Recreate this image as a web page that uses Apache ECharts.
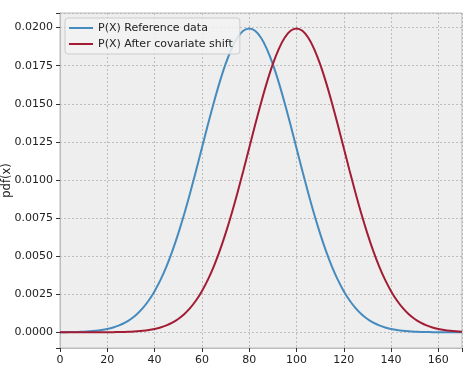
<!DOCTYPE html>
<html><head><meta charset="utf-8">
<script src="https://cdn.jsdelivr.net/npm/echarts@6/dist/echarts.min.js"></script>
<style>html,body{margin:0;padding:0;background:#fff}#c{width:470px;height:371px}</style>
</head><body><div id="c"></div>
<script>
const xValues = [0,2.5,5,7.5,10,12.5,15,17.5,20,22.5,25,27.5,30,32.5,35,37.5,40,42.5,45,47.5,50,52.5,55,57.5,60,62.5,65,67.5,70,72.5,75,77.5,80,82.5,85,87.5,90,92.5,95,97.5,100,102.5,105,107.5,110,112.5,115,117.5,120,122.5,125,127.5,130,132.5,135,137.5,140,142.5,145,147.5,150,152.5,155,157.5,160,162.5,165,167.5,170];
const referenceData = [0.0000067,0.0000110,0.0000176,0.0000280,0.0000436,0.0000670,0.000101,0.000151,0.000222,0.000320,0.000455,0.000636,0.000876,0.001188,0.001587,0.002086,0.0027,0.003439,0.004314,0.005327,0.006476,0.007751,0.009132,0.010594,0.012099,0.013603,0.015057,0.016408,0.017603,0.018593,0.019333,0.019792,0.019947,0.019792,0.019333,0.018593,0.017603,0.016408,0.015057,0.013603,0.012099,0.010594,0.009132,0.007751,0.006476,0.005327,0.004314,0.003439,0.0027,0.002086,0.001587,0.001188,0.000876,0.000636,0.000455,0.000320,0.000222,0.000151,0.000101,0.0000670,0.0000436,0.0000280,0.0000176,0.0000110,0.0000067,0.0000040,0.0000024,0.0000014,0.0000008];
const shiftedData = [0.0000001,0.0000002,0.0000003,0.0000005,0.0000008,0.0000014,0.0000024,0.0000040,0.0000067,0.0000110,0.0000176,0.0000280,0.0000436,0.0000670,0.000101,0.000151,0.000222,0.000320,0.000455,0.000636,0.000876,0.001188,0.001587,0.002086,0.0027,0.003439,0.004314,0.005327,0.006476,0.007751,0.009132,0.010594,0.012099,0.013603,0.015057,0.016408,0.017603,0.018593,0.019333,0.019792,0.019947,0.019792,0.019333,0.018593,0.017603,0.016408,0.015057,0.013603,0.012099,0.010594,0.009132,0.007751,0.006476,0.005327,0.004314,0.003439,0.0027,0.002086,0.001587,0.001188,0.000876,0.000636,0.000455,0.000320,0.000222,0.000151,0.000101,0.0000670,0.0000436];
const yTicks = [0,0.0025,0.005,0.0075,0.01,0.0125,0.015,0.0175,0.02];
const xTicks = [0,20,40,60,80,100,120,140,160];
const seriesNames = ['P(X) Reference data','P(X) After covariate shift'];

const chart = echarts.init(document.getElementById('c'), null, {renderer:'canvas'});
const font = 'DejaVu Sans';
chart.setOption({
  animation:false,
  textStyle:{fontFamily:font},
  grid:{left:60,top:13,width:402,height:335,containLabel:false,outerBoundsMode:'none',show:true,backgroundColor:'#eeeeee',borderColor:'#bcbcbc',borderWidth:1},
  legend:{
    left:65,top:18,orient:'vertical',itemGap:4,itemWidth:24,itemHeight:2,
    backgroundColor:'rgba(242,242,242,0.85)',borderColor:'#cccccc',borderWidth:1,borderRadius:3,
    padding:[4,7,4,4],
    textStyle:{fontFamily:font,fontSize:11,lineHeight:12,color:'#222'},
    icon:'rect',
    data:seriesNames
  },
  xAxis:{
    type:'value',min:0,max:170,minInterval:20,maxInterval:20,
    axisLine:{show:true,onZero:false,lineStyle:{color:'#bcbcbc',width:1}},
    axisTick:{show:true,inside:false,length:4,lineStyle:{color:'#333333',width:1}},
    axisLabel:{customValues:xTicks,fontFamily:font,fontSize:11,color:'#222',margin:7},
    splitLine:{show:true,lineStyle:{color:'#b0b0b0',type:[2,2],width:0.8}}
  },
  yAxis:{
    type:'value',min:-0.00103,max:0.02096,minInterval:0.0025,maxInterval:0.0025,
    name:'pdf(x)',nameLocation:'middle',nameGap:47,nameRotate:90,nameMoveOverlap:false,
    nameTextStyle:{fontFamily:font,fontSize:11.5,color:'#222'},
    axisLine:{show:true,onZero:false,lineStyle:{color:'#bcbcbc',width:1}},
    axisTick:{show:true,inside:false,length:4,lineStyle:{color:'#333333',width:1}},
    axisLabel:{customValues:yTicks,fontFamily:font,fontSize:11,color:'#222',margin:7,formatter:v=>v.toFixed(4)},
    splitLine:{show:true,lineStyle:{color:'#b0b0b0',type:[2,2],width:0.8}}
  },
  series:[
    {name:seriesNames[0],type:'line',smooth:0.3,showSymbol:false,data:xValues.map((x,i)=>[x,referenceData[i]]),lineStyle:{color:'#468bbd',width:2},itemStyle:{color:'#468bbd'}},
    {name:seriesNames[1],type:'line',smooth:0.3,showSymbol:false,data:xValues.map((x,i)=>[x,shiftedData[i]]),lineStyle:{color:'#a21d34',width:2},itemStyle:{color:'#a21d34'}}
  ]
});
</script></body></html>
